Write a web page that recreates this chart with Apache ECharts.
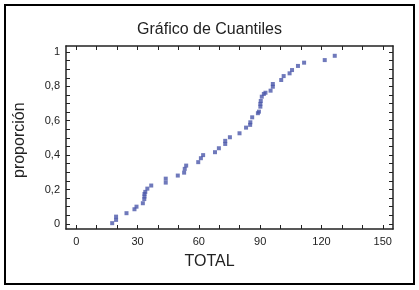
<!DOCTYPE html>
<html>
<head>
<meta charset="utf-8">
<script src="https://cdn.jsdelivr.net/npm/echarts@6/dist/echarts.min.js"></script>
<style>
html,body{margin:0;padding:0;background:#fff;}
#c{width:419px;height:290px;}
</style>
</head>
<body>
<div id="c"></div>
<script>
var titleText = "Gráfico de Cuantiles";
var xName = "TOTAL";
var yName = "proporción";
var totalValues = [17.6,19.5,19.5,24.6,28.5,29.5,32.6,33.3,33.4,33.4,33.8,34.8,36.7,43.8,43.8,49.7,52.8,53.1,53.8,59.7,61.0,62.1,67.9,69.8,72.9,72.9,75.2,79.9,83.1,85.1,85.2,86.1,88.9,89.4,90.1,90.1,90.3,90.8,91.8,92.6,95.1,96.2,96.2,100.3,101.5,104.4,105.6,108.5,111.5,121.6,126.5];
var proportionValues = [0.004,0.023,0.042,0.062,0.085,0.10,0.12,0.144,0.159,0.174,0.186,0.205,0.223,0.24,0.263,0.281,0.298,0.32,0.339,0.359,0.382,0.40,0.417,0.44,0.465,0.483,0.504,0.527,0.56,0.576,0.591,0.62,0.644,0.653,0.682,0.698,0.715,0.74,0.756,0.763,0.775,0.798,0.814,0.837,0.86,0.876,0.895,0.919,0.938,0.953,0.978];
var xTickLabels = [0,30,60,90,120,150];
var xTicks = [0,10,20,30,40,50,60,70,80,90,100,110,120,130,140,150];
var yTickLabels = [0,0.2,0.4,0.6,0.8,1];
var yTicks = [0,0.05,0.1,0.15,0.2,0.25,0.3,0.35,0.4,0.45,0.5,0.55,0.6,0.65,0.7,0.75,0.8,0.85,0.9,0.95,1];

var data = totalValues.map(function(v,i){return [v, proportionValues[i]];});
var font = 'Liberation Sans, Arial, sans-serif';
var lineStyle = {color:'#222', width:1.5};
function xAxisDef(pos, show){
  return {
    type:'value', position:pos, min:-5, max:155,
    axisLine:{show:true, onZero:false, lineStyle:lineStyle},
    axisTick:{show:true, inside:true, length:4, customValues:xTicks, lineStyle:{color:'#222'}},
    axisLabel:{show:show, customValues:xTickLabels, color:'#222', fontFamily:font, fontSize:11, margin:7},
    splitLine:{show:false}
  };
}
function yAxisDef(pos, show){
  return {
    type:'value', position:pos, min:-0.03, max:1.035,
    axisLine:{show:true, onZero:false, lineStyle:lineStyle},
    axisTick:{show:true, inside:true, length:4, customValues:yTicks, lineStyle:{color:'#222'}},
    axisLabel:{show:show, customValues:yTickLabels, color:'#222', fontFamily:font, fontSize:11, margin:6,
      formatter:function(v){return String(Math.round(v*10)/10).replace('.',',');}},
    splitLine:{show:false}
  };
}
var chart = echarts.init(document.getElementById('c'), null, {renderer:'canvas'});
chart.setOption({
  animation:false,
  backgroundColor:'#fff',
  grid:{left:66, right:26, top:46, bottom:61},
  title:{text:titleText, left:'center', top:17, textStyle:{fontFamily:font, fontSize:16, fontWeight:'normal', color:'#222'}},
  xAxis:[xAxisDef('bottom', true), xAxisDef('top', false)],
  yAxis:[yAxisDef('left', true), yAxisDef('right', false)],
  graphic:[
    {type:'rect', shape:{x:5, y:5, width:409, height:279}, style:{fill:null, stroke:'#000', lineWidth:2}, silent:true},
    {type:'text', left:'center', top:254, style:{text:xName, font:'16px '+font, fill:'#222'}},
    {type:'text', x:12, y:178, rotation:Math.PI/2, style:{text:yName, font:'16px '+font, fill:'#222'}}
  ],
  series:[{
    type:'scatter', xAxisIndex:0, yAxisIndex:0,
    symbol:'rect', symbolSize:4,
    itemStyle:{color:'#4b58aa'},
    data:data
  }]
});
</script>
</body>
</html>
